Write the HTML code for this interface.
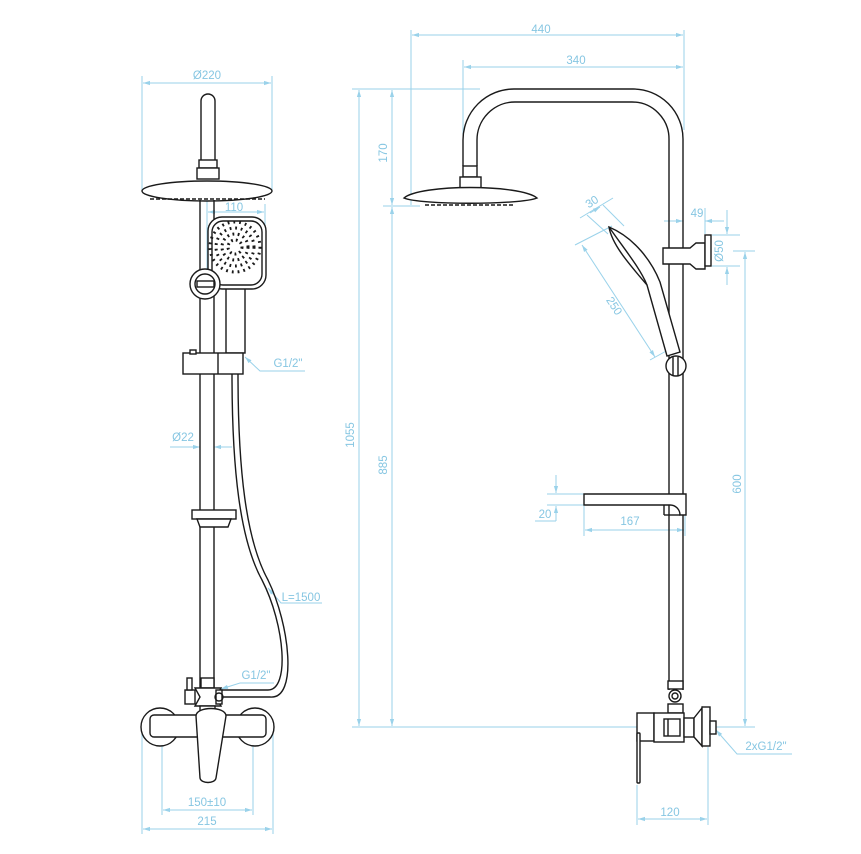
<!DOCTYPE html>
<html><head><meta charset="utf-8"><style>
html,body{margin:0;padding:0;background:#fff}
svg{display:block}
text{font-family:"Liberation Sans",sans-serif;font-size:11.5px;fill:#86c6e2}
.d{stroke:#9ad2ea;stroke-width:1;fill:none}
.k{stroke:#1a1a1a;stroke-width:1.4;fill:none}
.kf{stroke:#1a1a1a;stroke-width:1.4;fill:#fff}
</style></head><body>
<svg width="861" height="854" viewBox="0 0 861 854" xmlns="http://www.w3.org/2000/svg">
<defs>
<marker id="a" viewBox="0 0 10 10" refX="10" refY="5" markerWidth="7" markerHeight="7" orient="auto-start-reverse"><path d="M0,2 L10,5 L0,8 z" fill="#9ad2ea"/></marker>
</defs>

<!-- ============ LEFT VIEW ============ -->
<line class="d" x1="142" y1="76" x2="142" y2="190"/><line class="d" x1="272" y1="76" x2="272" y2="190"/>
<line class="d" x1="143" y1="83" x2="271" y2="83" marker-start="url(#a)" marker-end="url(#a)"/>
<text x="207" y="79" text-anchor="middle">Ø220</text>
<line class="d" x1="207" y1="200" x2="207" y2="290"/><line class="d" x1="265" y1="204" x2="265" y2="260"/>
<line class="d" x1="208" y1="212" x2="264" y2="212" marker-start="url(#a)" marker-end="url(#a)"/>
<text x="234" y="211" text-anchor="middle">110</text>
<polyline class="d" points="245,357 260,371 305,371" marker-start="url(#a)"/>
<text x="288" y="367" text-anchor="middle">G1/2"</text>
<line class="d" x1="170" y1="447" x2="200" y2="447" marker-end="url(#a)"/>
<line class="d" x1="232" y1="447" x2="214" y2="447" marker-end="url(#a)"/>
<text x="183" y="441" text-anchor="middle">Ø22</text>
<polyline class="d" points="268,588 281,603 322,603" marker-start="url(#a)"/>
<text x="301" y="601" text-anchor="middle">L=1500</text>
<polyline class="d" points="221,689 240,683 274,683" marker-start="url(#a)"/>
<text x="256" y="679" text-anchor="middle">G1/2"</text>
<line class="d" x1="162" y1="740" x2="162" y2="815"/><line class="d" x1="253" y1="740" x2="253" y2="815"/>
<line class="d" x1="163" y1="810" x2="252" y2="810" marker-start="url(#a)" marker-end="url(#a)"/>
<text x="207" y="806" text-anchor="middle">150±10</text>
<line class="d" x1="142" y1="730" x2="142" y2="834"/><line class="d" x1="273" y1="730" x2="273" y2="834"/>
<line class="d" x1="143" y1="829" x2="272" y2="829" marker-start="url(#a)" marker-end="url(#a)"/>
<text x="207" y="825" text-anchor="middle">215</text>

<path class="k" d="M201,160 V101 a7,7 0 0 1 14,0 V160"/>
<rect class="kf" x="199" y="160" width="18" height="8"/>
<rect class="kf" x="197" y="168" width="22" height="11"/>
<ellipse class="kf" cx="207" cy="191" rx="65" ry="10"/>
<line x1="150" y1="199" x2="265" y2="199" stroke="#1a1a1a" stroke-width="1.5" stroke-dasharray="4,2"/>
<line class="k" x1="200" y1="200" x2="200" y2="690"/>
<line class="k" x1="214" y1="200" x2="214" y2="690"/>
<rect class="kf" x="226" y="285" width="19" height="68"/>
<rect class="kf" x="208" y="217" width="58" height="72" rx="14"/>
<rect class="k" x="212" y="221" width="50" height="64" rx="11"/>
<circle cx="235" cy="247" r="7" fill="none" stroke="#1a1a1a" stroke-width="3" stroke-dasharray="1.8,3"/>
<circle cx="235" cy="247" r="13" fill="none" stroke="#1a1a1a" stroke-width="3" stroke-dasharray="1.8,3.5"/>
<circle cx="235" cy="247" r="19" fill="none" stroke="#1a1a1a" stroke-width="3" stroke-dasharray="1.8,3.8"/>
<circle cx="235" cy="247" r="25" fill="none" stroke="#1a1a1a" stroke-width="3" stroke-dasharray="1.8,4"/>
<circle class="kf" cx="205" cy="284" r="15"/>
<circle class="k" cx="205" cy="284" r="10"/>
<rect class="kf" x="197" y="281" width="17" height="6"/>
<rect class="kf" x="183" y="353" width="60" height="21"/>
<rect class="kf" x="190" y="350" width="6" height="4"/>
<line class="k" x1="218" y1="353" x2="218" y2="374"/>
<path class="k" d="M232,374 C232,470 240,540 262,580 C285,625 290,690 268,690 L220,690"/>
<path class="k" d="M238,374 C238,470 246,540 268,580 C290,625 298,700 270,697 L220,697"/>
<rect class="kf" x="192" y="510" width="44" height="9"/>
<path class="kf" d="M197,519 h34 l-3,8 h-28 z"/>
<rect class="kf" x="201" y="678" width="13" height="10"/>
<path class="kf" d="M195,688 h26 l-5,9 l5,9 h-26 l5,-9 z"/>
<rect class="kf" x="185" y="690" width="10" height="14"/>
<rect class="kf" x="187" y="678" width="5" height="12"/>
<rect class="kf" x="216" y="690" width="6" height="14"/>
<circle class="k" cx="219" cy="697" r="4"/>
<rect class="kf" x="200" y="706" width="15" height="8"/>
<circle class="kf" cx="160" cy="727" r="19"/>
<circle class="kf" cx="255" cy="727" r="19"/>
<rect class="kf" x="150" y="715" width="116" height="22" rx="4"/>
<path class="kf" d="M196,716 C196,706 226,706 226,716 L216,778 C215,784 201,784 200,778 Z"/>

<!-- ============ RIGHT VIEW ============ -->
<line class="d" x1="411" y1="30" x2="411" y2="205"/><line class="d" x1="684" y1="30" x2="684" y2="130"/>
<line class="d" x1="412" y1="35" x2="683" y2="35" marker-start="url(#a)" marker-end="url(#a)"/>
<text x="541" y="33" text-anchor="middle">440</text>
<line class="d" x1="463" y1="60" x2="463" y2="160"/>
<line class="d" x1="464" y1="67" x2="683" y2="67" marker-start="url(#a)" marker-end="url(#a)"/>
<text x="576" y="64" text-anchor="middle">340</text>
<line class="d" x1="352" y1="89" x2="480" y2="89"/>
<line class="d" x1="383" y1="206" x2="420" y2="206"/>
<line class="d" x1="352" y1="727" x2="755" y2="727"/>
<line class="d" x1="359" y1="90" x2="359" y2="726" marker-start="url(#a)" marker-end="url(#a)"/>
<text transform="translate(354,435) rotate(-90)" text-anchor="middle">1055</text>
<line class="d" x1="392" y1="90" x2="392" y2="205" marker-start="url(#a)" marker-end="url(#a)"/>
<text transform="translate(387,153) rotate(-90)" text-anchor="middle">170</text>
<line class="d" x1="392" y1="207" x2="392" y2="726" marker-start="url(#a)" marker-end="url(#a)"/>
<text transform="translate(387,465) rotate(-90)" text-anchor="middle">885</text>
<line class="d" x1="664" y1="221" x2="683" y2="221" marker-end="url(#a)"/>
<line class="d" x1="724" y1="221" x2="705" y2="221" marker-end="url(#a)"/>
<line class="d" x1="705" y1="208" x2="705" y2="234"/>
<text x="697" y="217" text-anchor="middle">49</text>
<line class="d" x1="712" y1="235" x2="740" y2="235"/><line class="d" x1="712" y1="266" x2="740" y2="266"/>
<line class="d" x1="727" y1="210" x2="727" y2="234" marker-end="url(#a)"/>
<line class="d" x1="727" y1="285" x2="727" y2="267" marker-end="url(#a)"/>
<text transform="translate(723,251) rotate(-90)" text-anchor="middle">Ø50</text>
<line class="d" x1="733" y1="251" x2="755" y2="251"/>
<line class="d" x1="745" y1="252" x2="745" y2="726" marker-start="url(#a)" marker-end="url(#a)"/>
<text transform="translate(741,484) rotate(-90)" text-anchor="middle">600</text>
<line class="d" x1="580" y1="218" x2="613" y2="198"/>
<line class="d" x1="587" y1="215" x2="608" y2="234"/>
<line class="d" x1="603" y1="205" x2="624" y2="226"/>
<line class="d" x1="590" y1="213" x2="600" y2="207" marker-end="url(#a)"/>
<text transform="translate(594,205) rotate(-33)" text-anchor="middle">30</text>
<line class="d" x1="575" y1="245" x2="612" y2="226"/>
<line class="d" x1="650" y1="360" x2="668" y2="350"/>
<line class="d" x1="582" y1="245" x2="655" y2="357" marker-start="url(#a)" marker-end="url(#a)"/>
<text transform="translate(611,308) rotate(57)" text-anchor="middle">250</text>
<line class="d" x1="547" y1="494" x2="584" y2="494"/><line class="d" x1="547" y1="505" x2="584" y2="505"/>
<line class="d" x1="556" y1="475" x2="556" y2="493" marker-end="url(#a)"/>
<line class="d" x1="556" y1="521" x2="556" y2="506" marker-end="url(#a)"/>
<line class="d" x1="535" y1="521" x2="556" y2="521"/>
<text x="545" y="518" text-anchor="middle">20</text>
<line class="d" x1="584" y1="506" x2="584" y2="536"/><line class="d" x1="685" y1="516" x2="685" y2="536"/>
<line class="d" x1="585" y1="530" x2="684" y2="530" marker-start="url(#a)" marker-end="url(#a)"/>
<text x="630" y="525" text-anchor="middle">167</text>
<line class="d" x1="637" y1="785" x2="637" y2="825"/><line class="d" x1="708" y1="747" x2="708" y2="825"/>
<line class="d" x1="638" y1="819" x2="707" y2="819" marker-start="url(#a)" marker-end="url(#a)"/>
<text x="670" y="816" text-anchor="middle">120</text>
<polyline class="d" points="716,730 737,754 792,754" marker-start="url(#a)"/>
<text x="766" y="750" text-anchor="middle">2xG1/2"</text>

<path class="k" d="M463,166 V140 a51,51 0 0 1 51,-51 H633 a50,50 0 0 1 50,50 V690"/>
<path class="k" d="M477,166 V140 a38,38 0 0 1 38,-38 H632 a37,37 0 0 1 37,37 V690"/>
<rect class="kf" x="463" y="166" width="14" height="11"/>
<rect class="kf" x="460" y="177" width="21" height="11"/>
<path class="kf" d="M404,198 C420,184 520,184 537,198 C520,205 420,205 404,198 Z"/>
<line x1="425" y1="205" x2="515" y2="205" stroke="#1a1a1a" stroke-width="1.5" stroke-dasharray="4,2"/>
<path class="kf" d="M663,248 H690 l6,-5 h9 v26 h-9 l-6,-5 H663 Z" />
<rect class="kf" x="705" y="235" width="6" height="31"/>
<path class="kf" d="M609,227 C635,238 652,262 660,282 L680,352 L667,356 L647,285 C630,265 612,245 609,227 Z"/>
<path class="k" d="M609,227 C625,250 640,268 647,285"/>
<circle class="kf" cx="676" cy="366" r="10"/>
<line class="k" x1="673" y1="357" x2="673" y2="376"/><line class="k" x1="678" y1="357" x2="678" y2="376"/>
<path class="kf" d="M584,494 H686 V515 H680 a10,10 0 0 0 -10,-10 H664 V505 H584 Z"/>
<line class="k" x1="664" y1="505" x2="664" y2="515"/>
<line class="k" x1="664" y1="515" x2="680" y2="515"/>
<rect class="kf" x="668" y="681" width="15" height="8"/>
<circle class="kf" cx="675" cy="696" r="6"/>
<circle class="k" cx="675" cy="696" r="3"/>
<rect class="kf" x="668" y="704" width="15" height="9"/>
<rect class="kf" x="637" y="713" width="17" height="28"/>
<rect class="kf" x="654" y="713" width="30" height="29"/>
<rect class="k" x="664" y="719" width="16" height="17"/>
<line class="k" x1="668" y1="719" x2="668" y2="736"/>
<rect class="kf" x="684" y="718" width="10" height="19"/>
<path class="kf" d="M694,718 L702,708 V746 L694,737 Z"/>
<rect class="kf" x="702" y="707" width="8" height="39"/>
<rect class="kf" x="710" y="721" width="6" height="13"/>
<rect class="kf" x="637" y="733" width="3" height="50" rx="1"/>
</svg>
</body></html>
